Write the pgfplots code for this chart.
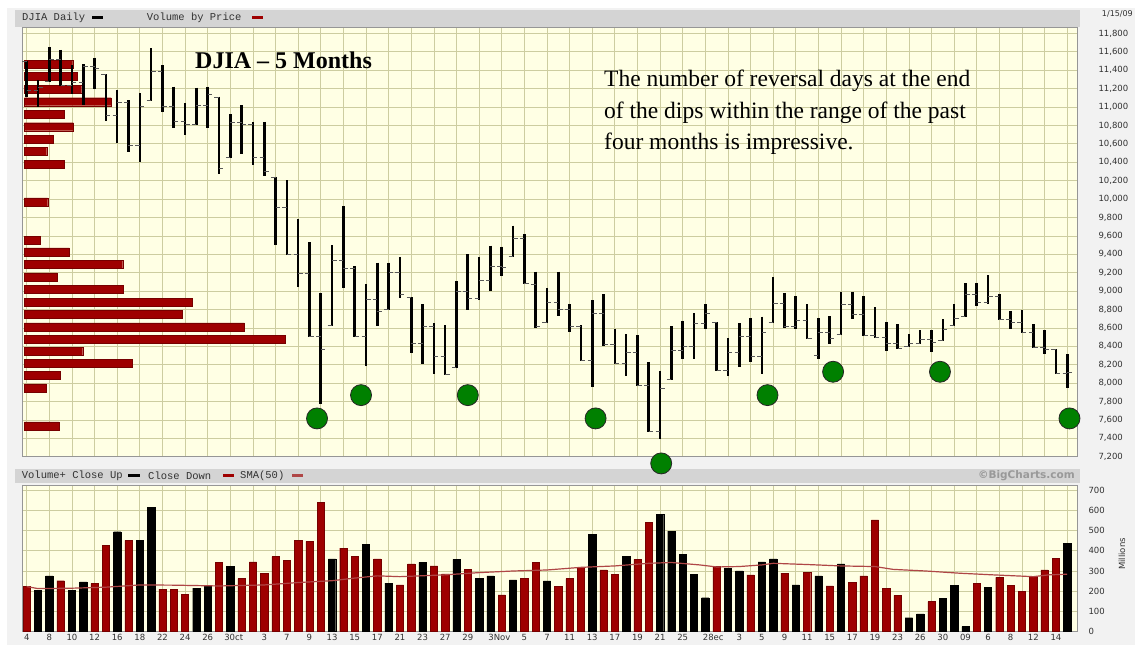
\documentclass[border=0pt]{standalone}
\usepackage{pgfplots}
\pgfplotsset{compat=1.18}
\usepackage{pgfplotstable}
\usepackage{fontspec}
\setmainfont{Liberation Serif}
\newfontfamily\dv{DejaVu Sans}
\newfontfamily\mono{Liberation Mono}

\definecolor{plotbg}{RGB}{255,255,228}
\definecolor{gridc}{RGB}{205,205,160}
\definecolor{barred}{RGB}{158,0,0}
\definecolor{smac}{RGB}{175,70,70}
\definecolor{circg}{RGB}{0,128,0}
\definecolor{bandc}{RGB}{212,212,212}
\definecolor{outerbg}{RGB}{242,242,242}
\definecolor{framec}{RGB}{150,150,150}
\definecolor{labc}{RGB}{50,50,50}

\pgfdeclareplotmark{otick}{\pgfpathmoveto{\pgfqpoint{-4.5pt}{0pt}}\pgfpathlineto{\pgfqpoint{0pt}{0pt}}\pgfusepathqstroke}
\pgfdeclareplotmark{ctick}{\pgfpathmoveto{\pgfqpoint{0pt}{0pt}}\pgfpathlineto{\pgfqpoint{4.5pt}{0pt}}\pgfusepathqstroke}

% daily bars: index, open, high, low, close
\pgfplotstableread{
i O H L C
0 11495 11500 11110 11184
1 11184 11293 11003 11217
2 11273 11655 11268 11516
3 11516 11620 11228 11233
4 11233 11456 11138 11266
5 11266 11464 11022 11437
6 11437 11536 11196 11424
7 11350 11355 10848 10906
8 10906 11185 10605 11051
9 11051 11076 10514 10587
10 10587 11149 10405 11011
11 11070 11638 11065 11390
12 11390 11456 10949 11006
13 11006 11221 10768 10841
14 10841 11040 10696 10810
15 10810 11210 10804 11014
16 11014 11221 10775 11137
17 11107 11112 10268 10336
18 10447 10921 10442 10837
19 10837 11022 10486 10816
20 10816 10840 10370 10456
21 10456 10840 10253 10295
22 10237 10242 9500 9914
23 9914 10206 9391 9396
24 9396 9779 9040 9196
25 9196 9529 8503 8508
26 8508 8975 7771 8365
27 8628 9500 8623 9329
28 9329 9924 9036 9249
29 9249 9272 8503 8508
30 8508 9073 8188 8908
31 8908 9308 8623 8778
32 8798 9308 8793 9203
33 9203 9373 8927 8964
34 8926 8931 8329 8435
35 8435 8859 8206 8612
36 8612 8649 8098 8289
37 8289 8630 8087 8092
38 8165 9109 8160 8997
39 8997 9402 8793 8920
40 8920 9373 8902 9115
41 9115 9493 9000 9265
42 9265 9482 9166 9259
43 9371 9710 9366 9574
44 9574 9619 9076 9081
45 9073 9210 8594 8616
46 8654 9029 8649 8871
47 8871 9210 8728 8796
48 8796 8859 8557 8614
49 8614 8630 8239 8244
50 8244 8902 7953 8760
51 8760 8967 8405 8415
52 8415 8587 8206 8211
53 8211 8529 8076 8337
54 8337 8522 7970 7975
55 7975 8231 7464 7469
56 7469 8134 7391 7947
57 8037 8620 8032 8356
58 8356 8677 8257 8393
59 8393 8757 8257 8649
60 8649 8859 8587 8754
61 8661 8666 8133 8138
62 8138 8486 8076 8332
63 8332 8649 8177 8509
64 8509 8703 8231 8287
65 8287 8721 8095 8554
66 8660 9149 8655 8862
67 8862 8981 8594 8612
68 8612 8946 8584 8684
69 8684 8859 8475 8482
70 8300 8703 8257 8548
71 8548 8728 8424 8481
72 8527 8992 8522 8852
73 8852 8992 8696 8750
74 8750 8946 8511 8522
75 8522 8823 8486 8496
76 8496 8666 8351 8435
77 8435 8641 8366 8380
78 8395 8532 8388 8430
79 8430 8576 8424 8470
80 8470 8576 8340 8440
81 8465 8696 8460 8588
82 8624 8855 8619 8699
83 8726 9084 8721 8965
84 8965 9090 8837 8881
85 8881 9174 8859 8945
86 8945 8967 8685 8692
87 8692 8786 8590 8664
88 8664 8793 8540 8545
89 8545 8641 8377 8388
90 8388 8576 8315 8361
91 8361 8366 8098 8106
92 8106 8315 7942 8118
}\ohlc

% volume by price: price level, bar length (px)
\pgfplotstableread{
p len
11464 48.4
11337 53
11196 57.4
11058 86.7
10924 39.7
10786 49
10652 29
10518 22.4
10380 39.7
9970 23.4
9554 15.7
9427 45
9293 98.4
9155 33
9018 99
8880 168
8747 157.7
8612 220
8475 261
8348 58.4
8217 107.7
8087 36
7949 22
7536 34.7
}\vbp

\begin{document}
\begin{tikzpicture}
\fill[white] (0pt,0pt) rectangle (1135pt,645pt);
\fill[outerbg] (7pt,0pt) rectangle (1135pt,637pt);
\fill[bandc] (15pt,618pt) rectangle (1080pt,635pt);
\fill[bandc] (15pt,162pt) rectangle (1080pt,176pt);

% ---------------- volume panel ----------------
\begin{axis}[
  at={(22pt,13.3pt)}, anchor=south west, scale only axis,
  width=1055pt, height=146.7pt,
  xmin=-0.416, xmax=92.87, ymin=0, ymax=725,
  axis background/.style={fill=plotbg},
  axis line style={draw=framec, line width=0.6pt},
  xtick={0,2,4,6,8,10,12,14,16,18.3,21,23,25,27,29,31,33,35,37,39,41.8,44,46,48,50,52,54,56,58,60.7,63,65,67,69,71,73,75,77,79,81,83,85,87,89,91},
  xticklabels={4,8,10,12,16,18,22,24,26,30ct,3,7,9,13,15,17,21,23,27,29,3Nov,5,7,11,13,17,19,21,25,28ec,3,5,9,11,15,17,19,23,26,30,09,6,8,12,14},
  minor xtick={0,2,...,92}, xminorgrids=true, xmajorgrids=false,
  ytick={0,100,...,700}, ymajorgrids=true,
  major grid style={draw=gridc, line width=0.7pt},
  minor grid style={draw=gridc, line width=0.7pt},
  major tick length=0pt, minor tick length=0pt,
  yticklabel pos=right,
  /pgf/number format/assume math mode=true,
  tick label style={font=\dv\fontsize{8.5}{8.5}\selectfont, text=labc},
  yticklabel style={anchor=west, xshift=8pt},
  xticklabel style={yshift=1pt},
]
\addplot[ybar, bar width=0.645, bar shift=0pt, fill=barred, draw=barred!75!black, line width=0.4pt] coordinates {
(0,223) (3,252) (6,238) (7,428) (9,451) (12,210) (13,210) (14,185) (17,342) (19,262)
(20,345) (21,289) (22,371) (23,351) (24,451) (25,446) (26,639) (28,413) (29,371) (31,360)
(33,231) (34,335) (36,325) (37,286) (39,309) (42,182) (44,262) (45,342) (47,223) (48,262)
(49,319) (51,305) (52,282) (54,358) (55,540) (61,322) (64,281) (67,289) (69,292) (71,226)
(73,243) (74,276) (75,553) (76,213) (77,180) (80,149) (84,240) (86,269) (87,228) (88,201)
(89,272) (90,305) (91,361)};
\addplot[ybar, bar width=0.645, bar shift=0pt, fill=black, draw=black, line width=0.4pt] coordinates {
(1,203) (2,276) (4,206) (5,246) (8,494) (10,451) (11,616) (15,215) (16,223) (18,322)
(27,360) (30,433) (32,240) (35,342) (38,358) (40,262) (41,276) (43,256) (46,251) (50,480)
(53,371) (56,581) (57,497) (58,383) (59,284) (60,168) (62,312) (63,300) (65,345) (66,360)
(68,231) (70,276) (72,335) (78,69) (79,88) (81,165) (82,228) (83,25) (85,218) (92,438)};
\addplot[smac, line width=1.2pt, mark=none] coordinates {
(0,223) (1,213) (4,215) (7,220) (10,231) (13,230) (17,226) (21,231) (24,243) (27,252)
(29,265) (31,276) (33,272) (37,281) (40,292) (43,300) (46,305) (49,318) (52,325) (55,338)
(57,342) (59.5,330) (61,320) (63,322) (65,330) (66,338) (69,332) (72,325) (75,322) (76.6,308)
(79.5,300) (82.5,289) (85.4,281) (89,272) (90.4,281) (92,284)};
\end{axis}
\node[rotate=90, font=\dv\fontsize{8.5}{8.5}\selectfont, text=labc] at (1122pt,91pt) {Millions};

% ---------------- price panel: background, grid, volume by price ----------------
\begin{axis}[
  at={(22pt,188.3pt)}, anchor=south west, scale only axis,
  width=1055pt, height=429.7pt,
  xmin=-2.3, xmax=1052.7, ymin=7200, ymax=11870,
  axis background/.style={fill=plotbg},
  axis line style={draw=framec, line width=0.6pt},
  xtick={2.4,25.02,...,1043}, xticklabels={}, xmajorgrids=true,
  ytick={7200,7400,...,11800}, ymajorgrids=true,
  major grid style={draw=gridc, line width=0.7pt},
  major tick length=0pt,
  yticklabel pos=right, scaled y ticks=false,
  /pgf/number format/assume math mode=true,
  /pgf/number format/1000 sep={,},
  tick label style={font=\dv\fontsize{8.5}{8.5}\selectfont, text=labc},
  yticklabel style={anchor=west, xshift=18pt},
]
\addplot[xbar, bar width=87, bar shift=0pt, fill=barred, draw=barred!75!black, line width=0.4pt] table[x=len, y=p] {\vbp};
\end{axis}

% ---------------- price panel: daily bars ----------------
\begin{axis}[
  at={(22pt,188.3pt)}, anchor=south west, scale only axis,
  width=1055pt, height=429.7pt,
  xmin=-0.416, xmax=92.87, ymin=7200, ymax=11870,
  hide axis, clip=false,
]
\addplot[draw=none, mark=none,
  error bars/.cd, y dir=minus, y explicit,
  error bar style={draw=black, line width=2.6pt}, error mark=none]
  table[x=i, y=H, y error expr=\thisrow{H}-\thisrow{L}] {\ohlc};
\addplot[only marks, mark=otick, mark options={draw=black!65, line width=0.9pt}] table[x=i, y=O] {\ohlc};
\addplot[only marks, mark=ctick, mark options={draw=black!65, line width=0.9pt}] table[x=i, y=C] {\ohlc};
\addplot[only marks, mark=*, mark size=10.5pt, mark options={fill=circg, draw=black!85, line width=0.8pt}] coordinates {
(25.67,7616) (29.56,7869) (39.0,7869) (50.3,7616) (56.1,7127) (65.5,7869) (71.3,8123) (80.75,8123) (92.2,7616)};
\end{axis}

% ---------------- header texts ----------------
\node[anchor=west, inner sep=0pt, text=labc] at (22pt,627.3pt) {\mono\fontsize{10.5}{10.5}\selectfont DJIA Daily};
\fill[black] (91.7pt,625.8pt) rectangle (103.3pt,628.8pt);
\node[anchor=west, inner sep=0pt, text=labc] at (146.7pt,627.3pt) {\mono\fontsize{10.5}{10.5}\selectfont Volume by Price};
\fill[barred] (251.7pt,625.8pt) rectangle (263.3pt,628.8pt);
\node[anchor=east, inner sep=0pt, text=labc] at (1133pt,631.5pt) {\dv\fontsize{8}{8}\selectfont 1/15/09};

\node[anchor=west, inner sep=0pt, text=labc] at (21.7pt,169.3pt) {\mono\fontsize{10.5}{10.5}\selectfont Volume+ Close Up};
\fill[black] (128pt,167.8pt) rectangle (140pt,170.8pt);
\node[anchor=west, inner sep=0pt, text=labc] at (148pt,169.3pt) {\mono\fontsize{10.5}{10.5}\selectfont Close Down};
\fill[barred] (223pt,167.8pt) rectangle (234pt,170.8pt);
\node[anchor=west, inner sep=0pt, text=labc] at (240pt,169.3pt) {\mono\fontsize{10.5}{10.5}\selectfont SMA(50)};
\fill[smac] (292pt,167.8pt) rectangle (303pt,170.8pt);
\node[anchor=east, inner sep=0pt, text=black!40] at (1075pt,169.3pt) {\dv\bfseries\fontsize{10.5}{10.5}\selectfont \textcopyright BigCharts.com};

% ---------------- annotations ----------------
\node[anchor=base west, inner sep=0pt] at (195pt,576.7pt) {\fontsize{24}{24}\selectfont\bfseries DJIA \textendash{} 5 Months};
\node[anchor=base west, inner sep=0pt] at (604pt,558pt) {\fontsize{23.5}{23.5}\selectfont The number of reversal days at the end};
\node[anchor=base west, inner sep=0pt] at (604pt,526.5pt) {\fontsize{23.5}{23.5}\selectfont of the dips within the range of the past};
\node[anchor=base west, inner sep=0pt] at (604pt,495pt) {\fontsize{23.5}{23.5}\selectfont four months is impressive.};

\pgfresetboundingbox
\useasboundingbox (0pt,0pt) rectangle (1135pt,645pt);
\end{tikzpicture}
\end{document}
